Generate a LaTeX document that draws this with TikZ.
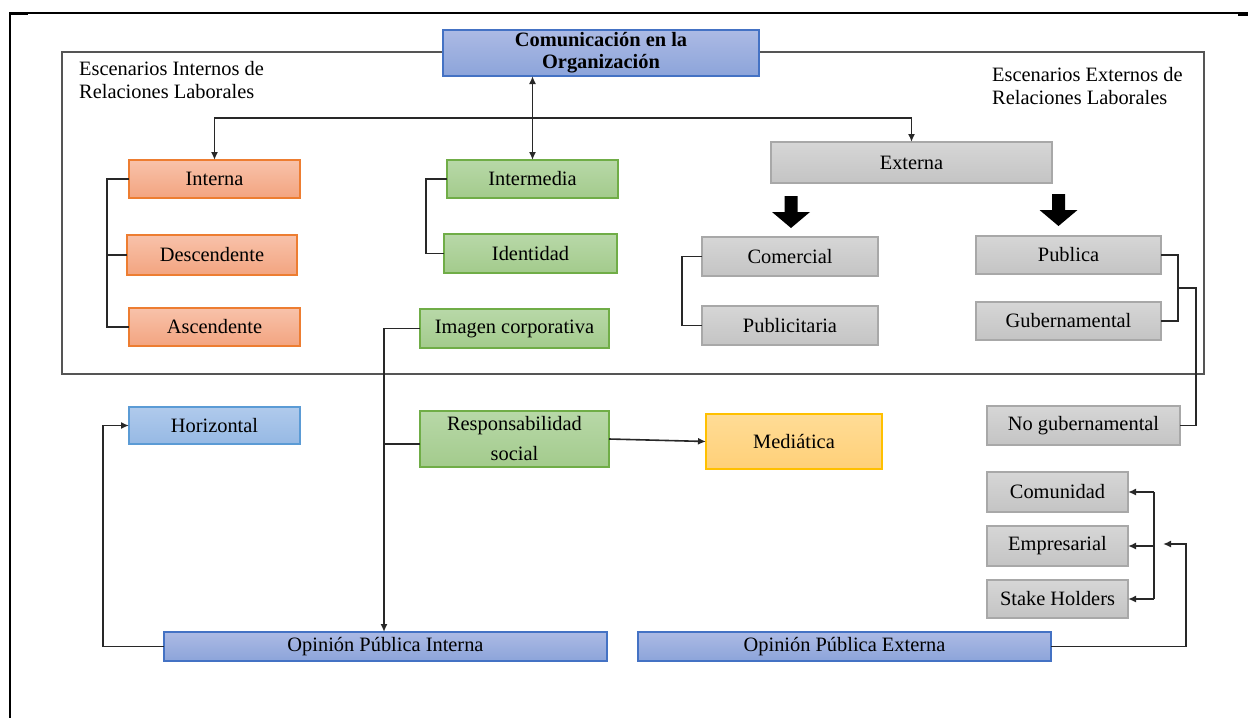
\documentclass[tikz,border=0pt]{standalone}
\usepackage{fontspec}
\setmainfont{Liberation Serif}
\usetikzlibrary{arrows.meta,calc}
\definecolor{orgT}{RGB}{248,194,170}
\definecolor{orgB}{RGB}{243,164,128}
\definecolor{orgD}{RGB}{237,125,49}
\definecolor{grnT}{RGB}{184,216,168}
\definecolor{grnB}{RGB}{163,203,140}
\definecolor{grnD}{RGB}{112,173,71}
\definecolor{bluT}{RGB}{176,202,236}
\definecolor{bluB}{RGB}{150,185,228}
\definecolor{bluD}{RGB}{91,155,213}
\definecolor{dblT}{RGB}{172,186,228}
\definecolor{dblB}{RGB}{140,164,218}
\definecolor{dblD}{RGB}{68,114,196}
\definecolor{gryT}{RGB}{214,214,214}
\definecolor{gryB}{RGB}{196,196,196}
\definecolor{gryD}{RGB}{168,168,168}
\definecolor{ylwT}{RGB}{255,220,150}
\definecolor{ylwB}{RGB}{255,208,120}
\definecolor{ylwD}{RGB}{255,192,0}
\definecolor{lineC}{RGB}{40,40,40}
\definecolor{frameC}{RGB}{85,85,85}
\tikzset{
  box/.style={draw, line width=1.2pt, inner sep=0pt, outer sep=0pt, align=center, text=black},
  obox/.style={box, draw=orgD, top color=orgT, bottom color=orgB},
  gbox/.style={box, draw=grnD, top color=grnT, bottom color=grnB},
  bbox/.style={box, draw=bluD, top color=bluT, bottom color=bluB},
  dbox/.style={box, draw=dblD, top color=dblT, bottom color=dblB},
  ybox/.style={box, draw=ylwD, top color=ylwT, bottom color=ylwB},
  xbox/.style={box, draw=gryD, top color=gryT, bottom color=gryB},
  conn/.style={draw=lineC, line width=1.6pt},
  arr/.style={conn, -{Latex[length=8pt,width=7pt]}},
  arrboth/.style={conn, {Latex[length=8pt,width=7pt]}-{Latex[length=8pt,width=7pt]}},
  frameline/.style={draw=frameC, line width=1.8pt},
  lbl/.style={anchor=base west, inner sep=0pt, text=black},
  blockarrow/.style={fill=black, draw=none}
}
\begin{document}
\begin{tikzpicture}[x=1pt,y=-1pt,font=\fontsize{20.4}{23}\selectfont]
\useasboundingbox (0,0) rectangle (1248,718);
\fill[white] (0,0) rectangle (1248,718);
% outer frame
\draw[black, line width=2pt] (10,13) -- (1248,13);
\draw[black, line width=2pt] (10,12) -- (10,718);
\draw[black, line width=2.8pt] (10,13.4) -- (28,13.4);
\draw[black, line width=2.4pt] (1238,14.5) -- (1248,14.5);
% inner frame
\draw[frameline] (62,52) -- (1204,52) -- (1204,374) -- (62,374) -- cycle;

% labels
\node[lbl] (lblL1) at (79,75.5) {Escenarios Internos de};
\node[lbl] (lblL2) at (79,98.5) {Relaciones Laborales};
\node[lbl] (lblR1) at (992,81.5) {Escenarios Externos de};
\node[lbl] (lblR2) at (992,104) {Relaciones Laborales};

% nodes
\node[dbox, minimum width=316pt, minimum height=46pt, font=\fontsize{20.4}{22}\selectfont\bfseries] (title) at (601,53) {Comunicación en la\\Organización};
\node[obox, minimum width=171pt, minimum height=38pt] (interna) at (214.5,179) {Interna};
\node[obox, minimum width=170pt, minimum height=40pt] (descendente) at (212,255) {Descendente};
\node[obox, minimum width=171pt, minimum height=38pt] (ascendente) at (214.5,327) {Ascendente};
\node[gbox, minimum width=171pt, minimum height=38pt] (intermedia) at (532.5,179) {Intermedia};
\node[gbox, minimum width=173pt, minimum height=39pt] (identidad) at (530.5,253.5) {Identidad};
\node[gbox, minimum width=189pt, minimum height=39pt] (imagen) at (514.5,328.5) {Imagen corporativa};
\node[xbox, minimum width=281pt, minimum height=41pt] (externa) at (911.5,162.5) {Externa};
\node[xbox, minimum width=176pt, minimum height=39pt] (comercial) at (790,256.5) {Comercial};
\node[xbox, minimum width=176pt, minimum height=39pt] (publicitaria) at (790,325.5) {Publicitaria};
\node[xbox, minimum width=185pt, minimum height=38pt] (publica) at (1068.5,255) {Publica};
\node[xbox, minimum width=185pt, minimum height=38pt] (gubernamental) at (1068.5,321) {Gubernamental};
\node[bbox, minimum width=171pt, minimum height=37pt] (horizontal) at (214.5,425.5) {Horizontal};
\node[gbox, minimum width=189pt, minimum height=56pt, font=\fontsize{20.4}{30}\selectfont] (respons) at (514.5,439) {Responsabilidad\\social};
\node[ybox, minimum width=176pt, minimum height=55pt] (mediatica) at (794,441.5) {Mediática};
\node[dbox, minimum width=443pt, minimum height=29pt] (opi) at (385.5,646.5) {Opinión Pública Interna};
\node[dbox, minimum width=413pt, minimum height=29pt] (ope) at (844.5,646.5) {Opinión Pública Externa};
\node[xbox, minimum width=193pt, minimum height=39pt] (nogub) at (1083.5,425.5) {No gubernamental};
\node[xbox, minimum width=141pt, minimum height=40pt] (comunidad) at (1057.5,492) {Comunidad};
\node[xbox, minimum width=141pt, minimum height=40pt] (empresarial) at (1057.5,546) {Empresarial};
\node[xbox, minimum width=141pt, minimum height=38pt] (stake) at (1057.5,599) {Stake Holders};

% block arrows
\fill[blockarrow] (784.5,196) -- (797.5,196) -- (797.5,212) -- (810,212) -- (791,228) -- (772,212) -- (784.5,212) -- cycle;
\fill[blockarrow] (1052,194) -- (1065,194) -- (1065,210) -- (1077.5,210) -- (1058.5,226) -- (1039.5,210) -- (1052,210) -- cycle;

% coordinates
\coordinate (hl) at (532.5,118);
\coordinate (bl) at (107,0);
\coordinate (bm) at (426,0);
\coordinate (bc) at (682,0);
\coordinate (vm) at (384,0);
\coordinate (hx) at (103,0);
\coordinate (pbx) at (1178,0);
\coordinate (brk) at (1178,288);
\coordinate (nbx) at (1196,288);
\coordinate (sbx) at (1154,0);
\coordinate (oe1) at (1186,544);
\coordinate (oe2) at (1163,544);

% connectors
\draw[arrboth] (title.south -| intermedia.north) -- (intermedia.north);
\draw[arr] (hl) -| (interna.north);
\draw[arr] (hl) -| (externa.north);

\draw[conn] (interna.west) -- (interna.west -| bl) -- (ascendente.west -| bl) -- (ascendente.west);
\draw[conn] (descendente.west) -- (descendente.west -| bl);

\draw[conn] (intermedia.west) -- (intermedia.west -| bm) -- (identidad.west -| bm) -- (identidad.west);

\draw[conn] (comercial.west) -- (comercial.west -| bc) -- (publicitaria.west -| bc) -- (publicitaria.west);

\draw[arr] (imagen.west) -- (imagen.west -| vm) -- (opi.north -| vm);
\draw[conn] ($(respons.west)+(0,5)$) -- ($(respons.west -| vm)+(0,5)$);
\draw[arr] (respons.east) -- (mediatica.west);

\draw[arr] (opi.west) -- (opi.west -| hx) -- (horizontal.west -| hx) -- (horizontal.west);

\draw[conn] (publica.east) -- (publica.east -| pbx) -- (gubernamental.east -| pbx) -- (gubernamental.east);
\draw[conn] (brk) -- (nbx) -- (nogub.east -| nbx) -- (nogub.east);

\draw[conn] (comunidad.east -| sbx) -- (stake.east -| sbx);
\draw[arr] (comunidad.east -| sbx) -- (comunidad.east);
\draw[arr] (empresarial.east -| sbx) -- (empresarial.east);
\draw[arr] (stake.east -| sbx) -- (stake.east);

\draw[arr] (ope.east) -- (ope.east -| oe1) -- (oe1) -- (oe2);
\end{tikzpicture}
\end{document}
